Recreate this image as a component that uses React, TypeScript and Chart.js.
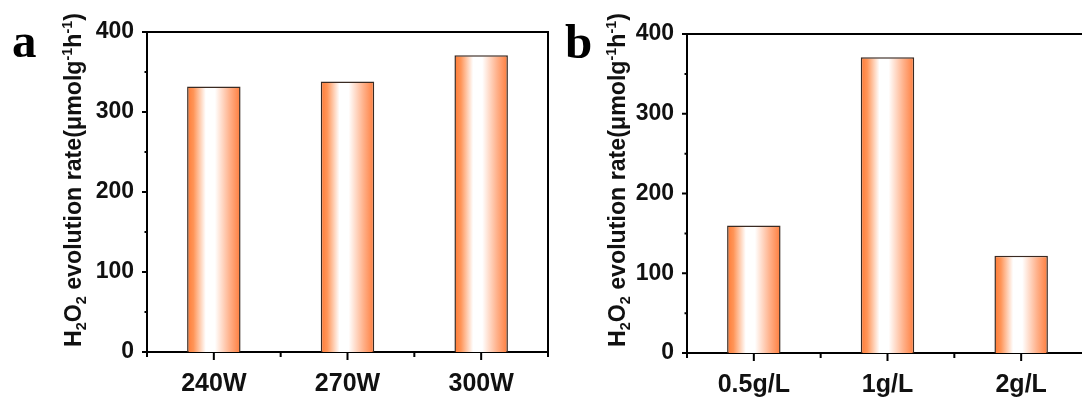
import { useEffect, useRef } from 'react';
import { Chart, registerables } from 'chart.js';

Chart.register(...registerables);

// ---- data ----
const POWER_CATEGORIES = ['240W', '270W', '300W'];
const POWER_RATES = [332, 338, 371];
const DOSE_CATEGORIES = ['0.5g/L', '1g/L', '2g/L'];
const DOSE_RATES = [160, 371, 122];
const Y_MIN = 0;
const Y_MAX = 400;
const Y_STEP = 100;
const Y_MINOR_TICKS = [50, 150, 250, 350];
const Y_TITLE_PARTS: { t: string; s: 'n' | 'sub' | 'sup' }[] = [
  { t: 'H', s: 'n' },
  { t: '2', s: 'sub' },
  { t: 'O', s: 'n' },
  { t: '2', s: 'sub' },
  { t: ' evolution rate(μmolg', s: 'n' },
  { t: '-1', s: 'sup' },
  { t: 'h', s: 'n' },
  { t: '-1', s: 'sup' },
  { t: ')', s: 'n' },
];

const SANS = '"Liberation Sans", Arial, sans-serif';
const SERIF = '"Liberation Serif", "Times New Roman", serif';
const ORANGE = '#ff7f3c';
const BAR_FRACTION = 0.4;

type PanelProps = {
  letter: string;
  categories: string[];
  values: number[];
  width: number;
  height: number;
  left: number;
  plot: { l: number; r: number; t: number; b: number };
  titleX: number;
  titleY: number;
  titleLen: number;
  letterX: number;
  letterY: number;
};

function Panel(p: PanelProps) {
  const ref = useRef<HTMLCanvasElement | null>(null);
  useEffect(() => {
    const canvas = ref.current;
    if (!canvas) return;
    const n = p.categories.length;

    const barFill = (ctx: any) => {
      if (!ctx || ctx.type !== 'data') return ORANGE;
      const chart = ctx.chart;
      const xs = chart && chart.scales && chart.scales.x;
      if (!xs) return ORANGE;
      const cx = xs.getPixelForValue(ctx.dataIndex);
      const w = (xs.width / n) * BAR_FRACTION;
      if (!isFinite(cx) || !isFinite(w) || w <= 0) return ORANGE;
      const g = chart.ctx.createLinearGradient(cx - w / 2, 0, cx + w / 2, 0);
      g.addColorStop(0, '#ff7a35');
      g.addColorStop(0.12, '#ff9558');
      g.addColorStop(0.35, '#ffffff');
      g.addColorStop(0.52, '#ffffff');
      g.addColorStop(0.8, '#ffb089');
      g.addColorStop(1, '#ff7d3c');
      return g;
    };

    const decor = {
      id: 'decor',
      afterDraw(chart: any) {
        const ctx = chart.ctx as CanvasRenderingContext2D;
        const { left, right, top, bottom } = chart.chartArea;
        const ys = chart.scales.y;
        const xs = chart.scales.x;
        ctx.save();
        ctx.strokeStyle = '#000';
        ctx.lineWidth = 2;
        ctx.beginPath();
        ctx.moveTo(left - 1, top);
        ctx.lineTo(right + 1, top);
        ctx.moveTo(right, top);
        ctx.lineTo(right, bottom);
        for (let v = Y_MIN; v <= Y_MAX; v += Y_STEP) {
          const y = ys.getPixelForValue(v);
          ctx.moveTo(left - 5, y);
          ctx.lineTo(left, y);
        }
        for (const v of Y_MINOR_TICKS) {
          const y = ys.getPixelForValue(v);
          ctx.moveTo(left - 2.5, y);
          ctx.lineTo(left, y);
        }
        for (let i = 0; i < n; i++) {
          const x = xs.getPixelForValue(i);
          ctx.moveTo(x, bottom);
          ctx.lineTo(x, bottom + 8);
        }
        for (let i = 0; i <= n; i++) {
          const x = xs.getPixelForValue(i - 0.5);
          ctx.moveTo(x, bottom);
          ctx.lineTo(x, bottom + 5);
        }
        ctx.stroke();

        const base = 20;
        let w0 = 0;
        for (const s of Y_TITLE_PARTS) {
          ctx.font = `bold ${s.s === 'n' ? base : base * 0.62}px ${SANS}`;
          w0 += ctx.measureText(s.t).width;
        }
        const size = (base * p.titleLen) / w0;
        ctx.translate(p.titleX, p.titleY);
        ctx.rotate(-Math.PI / 2);
        ctx.fillStyle = '#111';
        ctx.textBaseline = 'alphabetic';
        ctx.textAlign = 'left';
        let x = -p.titleLen / 2;
        const by = size * 0.36;
        for (const s of Y_TITLE_PARTS) {
          const fs = s.s === 'n' ? size : size * 0.62;
          ctx.font = `bold ${fs}px ${SANS}`;
          const dy = s.s === 'sub' ? size * 0.22 : s.s === 'sup' ? -size * 0.42 : 0;
          ctx.fillText(s.t, x, by + dy);
          x += ctx.measureText(s.t).width;
        }
        ctx.restore();

        ctx.save();
        ctx.fillStyle = '#000';
        ctx.font = `bold 49px ${SERIF}`;
        ctx.textBaseline = 'alphabetic';
        ctx.textAlign = 'left';
        ctx.fillText(p.letter, p.letterX, p.letterY);
        ctx.restore();
      },
    };

    const chart = new Chart(canvas, {
      type: 'bar',
      data: {
        labels: p.categories,
        datasets: [
          {
            data: p.values,
            backgroundColor: barFill,
            borderColor: '#3a2a22',
            borderWidth: 1.5,
            barPercentage: BAR_FRACTION,
            categoryPercentage: 1,
          },
        ],
      },
      options: {
        animation: false,
        responsive: false,
        devicePixelRatio: 1,
        layout: {
          padding: { left: 0, right: p.width - p.plot.r, top: p.plot.t, bottom: 0 },
        },
        plugins: { legend: { display: false }, tooltip: { enabled: false } },
        scales: {
          x: {
            z: 1,
            grid: { display: false, drawTicks: false },
            border: { display: true, color: '#000', width: 2 },
            ticks: {
              color: '#111',
              padding: 17,
              font: { family: SANS, size: 25, weight: 'bold' },
              maxRotation: 0,
            },
            afterFit(scale: any) {
              scale.height = p.height - p.plot.b;
            },
          },
          y: {
            z: 1,
            min: Y_MIN,
            max: Y_MAX,
            grid: { display: false, drawTicks: false },
            border: { display: true, color: '#000', width: 2 },
            ticks: {
              stepSize: Y_STEP,
              color: '#111',
              padding: 13,
              font: { family: SANS, size: 23, weight: 'bold' },
            },
            afterFit(scale: any) {
              scale.width = p.plot.l;
            },
          },
        },
      },
      plugins: [decor],
    });
    return () => chart.destroy();
  }, []);

  return (
    <canvas
      ref={ref}
      width={p.width}
      height={p.height}
      style={{ position: 'absolute', left: p.left, top: 0, width: p.width, height: p.height }}
    />
  );
}

export default function App() {
  return (
    <div
      style={{
        position: 'fixed',
        left: 0,
        top: 0,
        width: 1082,
        height: 399,
        overflow: 'hidden',
        background: '#fff',
      }}
    >
      <Panel
        letter="a"
        categories={POWER_CATEGORIES}
        values={POWER_RATES}
        width={560}
        height={399}
        left={0}
        plot={{ l: 147, r: 548, t: 32, b: 352 }}
        titleX={73}
        titleY={180}
        titleLen={334}
        letterX={12}
        letterY={57}
      />
      <Panel
        letter="b"
        categories={DOSE_CATEGORIES}
        values={DOSE_RATES}
        width={540}
        height={399}
        left={560}
        plot={{ l: 127, r: 528, t: 34, b: 353 }}
        titleX={57}
        titleY={180}
        titleLen={334}
        letterX={5}
        letterY={58}
      />
    </div>
  );
}
